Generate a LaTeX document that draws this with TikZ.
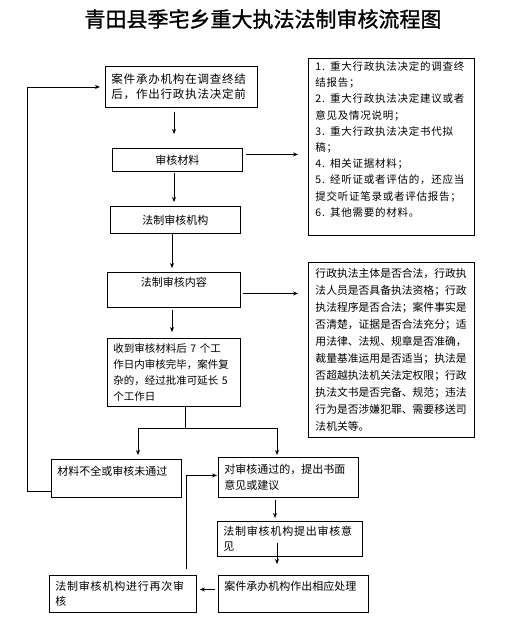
\documentclass[tikz,border=0pt]{standalone}
\usepackage{fontspec}
\newfontfamily\cjk{Noto Sans CJK SC}
\newfontfamily\cjksp[LetterSpace=7]{Noto Sans CJK SC}
\newfontfamily\cjktitle[FakeBold=1.2]{Noto Sans CJK SC}
\usetikzlibrary{arrows.meta,calc}
\begin{document}
\begin{tikzpicture}[x=1pt,y=-1pt,
  box/.style={draw, line width=0.9pt, inner xsep=6pt, inner ysep=2pt, anchor=north west, font=\cjk\fontsize{11}{15.5}\selectfont},
  lbox/.style={box, align=left},
  cbox/.style={box, align=center},
  arr/.style={-{Stealth[length=5pt,width=4pt]}, line width=0.8pt},
  ln/.style={line width=0.8pt}]
\useasboundingbox (0,0) rectangle (530,633);
\node[font=\cjktitle\fontsize{21}{24}\selectfont] (title) at (263,19) {青田县季宅乡重大执法法制审核流程图};

\node[lbox, text width=140pt, minimum height=41pt, font=\cjksp\fontsize{11.5}{15}\selectfont] (A) at (105,66) {案件承办机构在调查终结\\后，作出行政执法决定前};
\node[cbox, minimum width=130pt, minimum height=23pt] (B) at (112,148) {审核材料};
\node[cbox, minimum width=130pt, minimum height=27pt] (C) at (110,206) {法制审核机构};
\node[cbox, minimum width=133pt, minimum height=35pt] (D) at (107,272) {法制审核内容\\\mbox{}};
\node[lbox, text width=121pt, minimum height=68pt, font=\cjk\fontsize{10.5}{15.7}\selectfont] (E) at (107,338) {收到审核材料后 7 个工\\作日内审核完毕，案件复\\杂的，经过批准可延长 5\\个工作日};
\node[lbox, text width=118pt, minimum height=38pt] (F) at (51,459) {材料不全或审核未通过\\\mbox{}};
\node[lbox, text width=128pt, minimum height=40pt] (G) at (218,457) {对审核通过的，提出书面\\意见或建议};
\node[lbox, text width=133pt, minimum height=35pt, font=\cjksp\fontsize{11}{15.5}\selectfont] (H) at (217,521) {法制审核机构提出审核意\\见};
\node[lbox, text width=138pt, minimum height=37pt] (I) at (218,575) {案件承办机构作出相应处理\\\mbox{}};
\node[lbox, text width=135pt, minimum height=37pt, font=\cjksp\fontsize{11}{15.5}\selectfont] (J) at (49,575) {法制审核机构进行再次审\\核};
\node[lbox, text width=152pt, inner xsep=7pt, inner ysep=1pt, minimum height=177pt, font=\cjksp\fontsize{10.5}{16.2}\selectfont] (R1) at (308,58) {1. 重大行政执法决定的调查终\\结报告；\\2. 重大行政执法决定建议或者\\意见及情况说明；\\3. 重大行政执法决定书代拟\\稿；\\4. 相关证据材料；\\5. 经听证或者评估的，还应当\\提交听证笔录或者评估报告；\\6. 其他需要的材料。\\\mbox{}};
\node[lbox, text width=152pt, inner xsep=7pt, inner ysep=1pt, minimum height=175pt, font=\cjk\fontsize{10.8}{17}\selectfont] (R2) at (308,262) {行政执法主体是否合法，行政执\\法人员是否具备执法资格；行政\\执法程序是否合法；案件事实是\\否清楚，证据是否合法充分；适\\用法律、法规、规章是否准确，\\裁量基准运用是否适当；执法是\\否超越执法机关法定权限；行政\\执法文书是否完备、规范；违法\\行为是否涉嫌犯罪、需要移送司\\法机关等。};

\coordinate (x174) at (174,0);
\coordinate (x172) at (172,0);
\draw[arr, shorten <=4pt, shorten >=14pt] (A.south -| x174) -- (B.north -| x174);
\draw[arr, shorten <=1pt, shorten >=4pt] (B.south -| x174) -- (C.north -| x174);
\draw[arr, shorten >=4pt] (C.south -| x172) -- (D.north -| x172);
\draw[arr, shorten <=2pt, shorten >=6pt] (D.south -| x172) -- (E.north -| x172);

\coordinate (bR) at ([yshift=5.5pt]B.east);
\draw[arr, shorten <=3pt, shorten >=10pt] (bR) -- (bR -| R1.west);
\coordinate (dR) at ([yshift=-3.5pt]D.east);
\draw[arr, shorten <=2pt, shorten >=10pt] (dR) -- (dR -| R2.west);

\coordinate (sp) at (185,428);
\coordinate (hl) at (138,428);
\coordinate (hr) at (277,428);
\draw[ln] (E.south -| sp) -- (sp);
\draw[ln] (hl) -- (hr);
\draw[arr, shorten >=4pt] (hl) -- (hl |- F.north);
\draw[arr, shorten >=2pt] (hr) -- (hr |- G.north);

\coordinate (lx) at (27,0);
\coordinate (fL) at ([yshift=-13pt]F.west);
\draw[arr, shorten >=5pt] (fL) -| (lx |- A.west) -- (A.west);

\coordinate (jg) at ([xshift=-11pt]J.north east);
\coordinate (gW) at ([yshift=2pt]G.west);
\draw[arr, shorten <=6pt, shorten >=1pt] (jg) |- (gW);

\coordinate (x275) at (275,0);
\coordinate (x277) at (277,0);
\draw[arr, shorten <=2pt, shorten >=3pt] (G.south -| x275) -- (H.north -| x275);
\draw[arr, shorten <=-14pt, shorten >=11pt] (H.south -| x277) -- (I.north -| x277);

\coordinate (iW) at ([yshift=4.5pt]I.west);
\draw[arr, shorten <=3pt, shorten >=3pt] (iW) -- (iW -| J.east);
\end{tikzpicture}
\end{document}
